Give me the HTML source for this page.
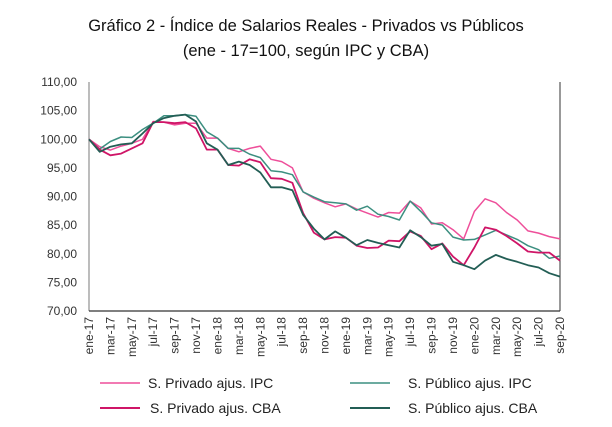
<!DOCTYPE html>
<html><head><meta charset="utf-8"><style>
body{margin:0;background:#fff;}
svg text{font-family:"Liberation Sans",sans-serif;}
</style></head><body>
<svg id="chart" width="612" height="422" xmlns="http://www.w3.org/2000/svg">
<rect width="612" height="422" fill="#fff"/>
<text x="306" y="31" font-size="16.5" text-anchor="middle" fill="#111">Gráfico 2 - Índice de Salarios Reales - Privados vs Públicos</text>
<text x="306" y="56" font-size="16.5" text-anchor="middle" fill="#111">(ene - 17=100, según IPC y CBA)</text>
<g id="axes"></g>
<g id="series"></g>
<g id="legend">
<line x1="100" y1="383" x2="140" y2="383" stroke="#ee4f9a" stroke-width="1.5"/>
<text x="148" y="388" font-size="14" fill="#222">S. Privado ajus. IPC</text>
<line x1="100" y1="408" x2="140" y2="408" stroke="#cf1567" stroke-width="2"/>
<text x="150" y="413" font-size="14" fill="#222">S. Privado ajus. CBA</text>
<line x1="350" y1="383" x2="390" y2="383" stroke="#3c8f80" stroke-width="1.5"/>
<text x="408" y="388" font-size="14" fill="#222">S. Público ajus. IPC</text>
<line x1="350" y1="408" x2="390" y2="408" stroke="#235e55" stroke-width="2"/>
<text x="408" y="413" font-size="14" fill="#222">S. Público ajus. CBA</text>
</g>
</svg>
<script>
const months = ["ene","feb","mar","abr","may","jun","jul","ago","sep","oct","nov","dic"];
const yTicks = [70,75,80,85,90,95,100,105,110];
const privadoIPC = [100,98.7,98.1,98.8,99.3,100,103.1,103,102.5,102.8,102.8,100.2,100.2,98.4,97.8,98.4,98.8,96.5,96.1,95,90.8,89.7,88.9,88.2,88.7,87.8,87.1,86.4,87.2,87.1,89.2,88,85.2,85.4,84.2,82.6,87.4,89.6,88.9,87.2,85.9,84,83.6,83,82.6];
const privadoCBA = [100,98.2,97.2,97.5,98.4,99.3,103,103,102.8,103,101.9,98.2,98.2,95.5,95.4,96.5,96,93.2,93.1,92.4,87.1,83.7,82.5,82.9,82.8,81.4,81,81.1,82.3,82.2,83.9,83.1,80.8,81.8,79.5,78,81.1,84.6,84.2,83.1,81.8,80.4,80.2,80.2,78.8];
const publicoIPC = [100,98.3,99.6,100.4,100.3,101.7,102.8,104.1,104.1,104.3,104,101.3,100.2,98.4,98.4,97.4,96.8,94.5,94.3,93.8,90.8,89.9,89.1,88.9,88.7,87.6,88.3,86.9,86.5,85.9,89.2,87.4,85.4,85,82.9,82.4,82.5,83.3,84.1,83.3,82.5,81.4,80.7,79.2,79.6];
const publicoCBA = [100,97.8,98.7,99.1,99.3,101,102.8,103.7,104.1,104.3,103.1,99.3,98.2,95.5,96.1,95.5,94.2,91.6,91.6,91.1,86.8,84.4,82.5,83.9,82.8,81.5,82.4,81.9,81.5,81.1,84.1,82.9,81.4,81.7,78.6,78,77.3,78.8,79.8,79.1,78.6,78,77.6,76.6,76];
const NS="http://www.w3.org/2000/svg";
const X0=89,X1=560,Y0=311,Y1=82,N=45;
const xs=i=>X0+(X1-X0)*i/(N-1);
const ys=v=>Y0-(v-70)/(110-70)*(Y0-Y1);
function mk(t,a,p){const e=document.createElementNS(NS,t);for(const k in a)e.setAttribute(k,a[k]);p.appendChild(e);return e;}
const ax=document.getElementById('axes');
const yl=mk('line',{x1:X0,y1:Y1,x2:X0,y2:Y0,stroke:'#999','stroke-width':1.3},ax);


const xl=mk('line',{x1:X0,y1:Y0,x2:X1,y2:Y0,stroke:'#333','stroke-width':1.3},ax);


const rl=mk('line',{x1:X1,y1:Y1,x2:X1,y2:Y0,stroke:'#333','stroke-width':1},ax);


yTicks.forEach(v=>{const t=mk('text',{x:77,y:ys(v)+4,'font-size':12,'text-anchor':'end',fill:'#333'},ax);t.textContent=v.toFixed(2).replace('.',',');

});
for(let i=0;i<N;i+=2){const m=months[i%12]+'-'+(17+Math.floor(i/12));const x=xs(i)+4;
const t=mk('text',{x:x,y:317,'font-size':12,'text-anchor':'end',fill:'#333',transform:`rotate(-90 ${x} 317)`},ax);t.textContent=m;

}
const sg=document.getElementById('series');
[[privadoIPC,'#ee4f9a',1.5,'line-privado-ipc'],[publicoIPC,'#3c8f80',1.5,'line-publico-ipc'],[privadoCBA,'#cf1567',1.8,'line-privado-cba'],[publicoCBA,'#235e55',1.8,'line-publico-cba']].forEach(([d,c,w,n])=>{
const p=mk('polyline',{points:d.map((v,i)=>xs(i).toFixed(1)+','+ys(v).toFixed(1)).join(' '),fill:'none',stroke:c,'stroke-width':w,'stroke-linejoin':'round'},sg);

});
</script>
</body></html>
